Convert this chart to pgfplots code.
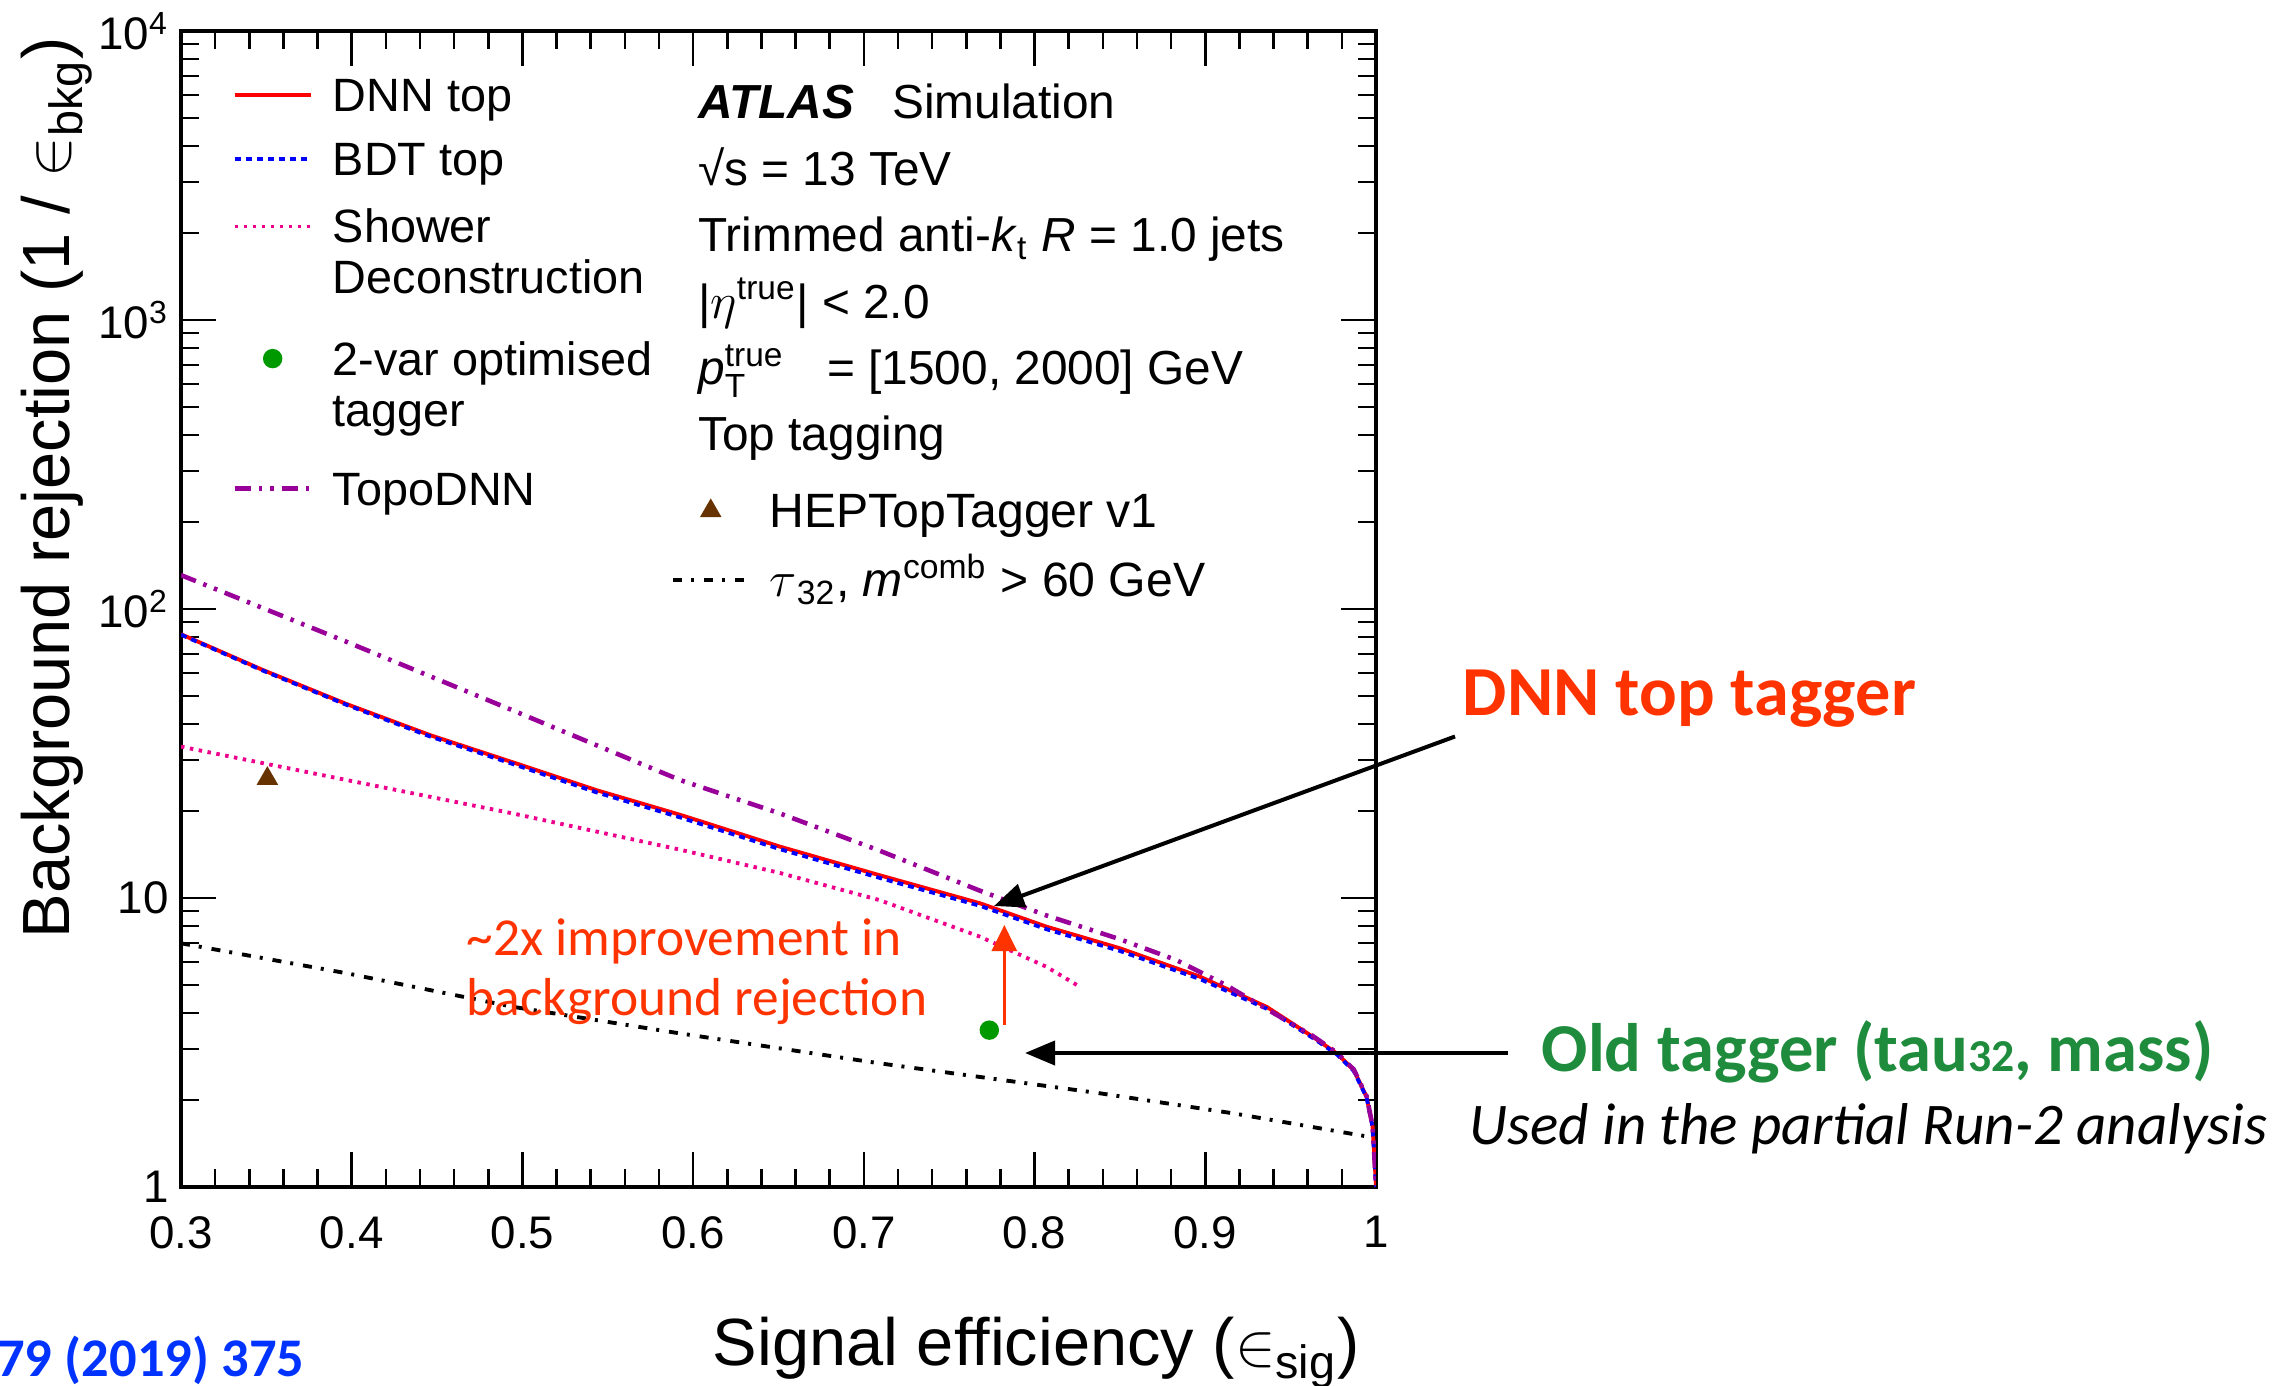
\documentclass[border=0pt]{standalone}
\usepackage{fontspec}
\setmainfont{Liberation Sans}
\newfontfamily\gill{Carlito}
\usepackage{amsmath}
\usepackage{pgfplots}
\usepackage{pgfplotstable}
\pgfplotsset{compat=1.18}
\usetikzlibrary{arrows.meta}

\definecolor{annred}{RGB}{255,51,0}
\definecolor{anngreen}{RGB}{30,140,60}
\definecolor{annblue}{RGB}{0,51,255}
\definecolor{topo}{RGB}{153,0,153}
\definecolor{dotgreen}{RGB}{0,153,0}
\definecolor{tribrown}{RGB}{102,51,0}

\pgfplotstableread{
x y
0.300 81.8
0.348 61.5
0.397 46.9
0.446 36.6
0.495 29.4
0.5435 23.6
0.5925 19.4
0.651 15.05
0.709 12.0
0.768 9.59
0.807 7.96
0.850 6.70
0.897 5.34
0.936 4.20
0.963 3.31
0.977 2.90
0.987 2.54
0.9945 2.05
0.998 1.62
0.9994 1.17
1.000 1.00
}\dnndata

\pgfplotstableread{
x y
0.300 81.5
0.348 61.2
0.397 46.6
0.446 36.2
0.495 29.0
0.5435 23.2
0.5925 19.0
0.651 14.75
0.709 11.75
0.768 9.40
0.807 7.80
0.850 6.56
0.897 5.24
0.936 4.14
0.963 3.28
0.977 2.88
0.987 2.52
0.9945 2.04
0.998 1.61
0.9994 1.16
1.000 1.00
}\bdtdata

\pgfplotstableread{
x y
0.300 33.4
0.397 25.6
0.4947 19.6
0.5923 14.7
0.651 12.2
0.709 9.84
0.768 7.35
0.807 5.78
0.8265 4.93
}\showerdata

\pgfplotstableread{
x y
0.300 131
0.397 77
0.4947 44.5
0.5923 25.6
0.651 19.6
0.709 14.6
0.768 10.6
0.807 8.7
0.850 7.2
0.883 6.1
0.912 5.0
0.940 4.0
0.963 3.33
0.977 2.92
0.987 2.55
0.9945 2.06
0.998 1.63
0.9994 1.17
1.000 1.00
}\topodata

\pgfplotstableread{
x y
0.300 6.97
0.397 5.49
0.4947 4.20
0.5923 3.40
0.709 2.68
0.8383 2.11
0.916 1.80
0.9965 1.49
}\taudata

\pgfplotsset{
  lineimg/.style={legend image code/.code={\path[draw=none,fill=none] (0mm,0mm) -- (7.6mm,0mm);\draw[##1] (0mm,1.65mm) -- (7.6mm,1.65mm);}},
  markimg/.style={legend image code/.code={\path[draw=none,fill=none] (0mm,0mm) -- (7.6mm,0mm);\draw[##1] plot[only marks] coordinates {(3.8mm,1.65mm)};}},
}

\begin{document}
\begin{tikzpicture}
\path[use as bounding box] (0,0) rectangle (229.3mm,138.5mm);

\begin{axis}[
  at={(18.1mm,19.8mm)}, anchor=south west,
  scale only axis, width=119.5mm, height=115.6mm,
  xmin=0.3, xmax=1, ymode=log, ymin=1, ymax=10000,
  enlargelimits=false,
  axis line style={line width=0.9pt},
  tick style={line width=0.7pt, black},
  tick align=inside, tick pos=both,
  major tick length=3.5mm, minor tick length=1.8mm,
  xtick={0.3,0.4,0.5,0.6,0.7,0.8,0.9,1.0},
  xticklabels={0.3,0.4,0.5,0.6,0.7,0.8,0.9,1},
  minor x tick num=4,
  ytick={1,10,100,1000,10000},
  yticklabels={1,10,10\textsuperscript{2},10\textsuperscript{3},10\textsuperscript{4}},
  tick label style={font=\fontsize{13}{15}\selectfont},
  xticklabel style={yshift=-1.7mm},
  xlabel={Signal efficiency ($\in$\textsubscript{sig})},
  ylabel={Background rejection (1 / $\in$\textsubscript{bkg})},
  label style={font=\fontsize{19}{22}\selectfont, inner sep=0pt},
  xlabel style={at={(axis description cs:0.9866,-0.154)}, anchor=base east},
  ylabel style={at={(axis description cs:-0.0734,0.995)}, anchor=south east},
  legend cell align=left,
  legend style={at={(axis description cs:0.0424,0.967)}, anchor=north west,
    draw=none, fill=none, inner sep=0pt, row sep=0pt, column sep=1.3mm,
    font=\fontsize{13.3}{14.6}\selectfont,
    cells={anchor=base west, inner ysep=0pt, text height=3.5mm, text depth=1.5mm}},
]
\addplot[red, line width=1.1pt, lineimg] table {\dnndata};
\addlegendentry[text depth=1.5mm]{DNN top}
\addplot[blue, line width=1.1pt, dash pattern=on 0.6mm off 0.5mm, lineimg] table {\bdtdata};
\addlegendentry[text depth=1.8mm]{BDT top}
\addplot[magenta, line width=1.1pt, dash pattern=on 0.35mm off 0.55mm, lineimg] table {\showerdata};
\addlegendentry[text depth=0.1mm]{Shower}
\addlegendimage{empty legend}
\addlegendentry[text depth=3.3mm]{Deconstruction}
\addplot[only marks, mark=*, mark size=0.9mm, color=dotgreen, markimg]
  coordinates {(0.7735,3.49)};
\addlegendentry[text depth=0.2mm]{2-var optimised}
\addlegendimage{empty legend}
\addlegendentry[text depth=3.0mm]{tagger}
\addplot[topo, line width=1.3pt, dash pattern=on 1.6mm off 0.8mm on 0.35mm off 0.8mm on 0.35mm off 0.8mm, lineimg] table {\topodata};
\addlegendentry[text depth=0.5mm]{TopoDNN}

\node[anchor=north west, align=left, inner sep=0pt, font=\fontsize{13.6}{18.9}\selectfont]
  at (axis description cs:0.4323,0.9546) {%
  {\bfseries\itshape ATLAS}\hspace{0.8em}Simulation\\
  √s = 13 TeV\\
  Trimmed anti-\textit{k}\textsubscript{t} \textit{R} = 1.0 jets\\
  |$\eta$\textsuperscript{true}| < 2.0\\
  \textit{p}$^{\text{true}}_{\text{T}}$\hspace{0.9em}= [1500, 2000] GeV\\
  Top tagging};
\end{axis}

\begin{axis}[
  at={(18.1mm,19.8mm)}, anchor=south west,
  scale only axis, width=119.5mm, height=115.6mm,
  xmin=0.3, xmax=1, ymode=log, ymin=1, ymax=10000,
  enlargelimits=false, hide axis,
  legend cell align=left,
  legend style={at={(axis description cs:0.4093,0.6076)}, anchor=north west,
    draw=none, fill=none, inner sep=0pt, row sep=0pt, column sep=1.2mm,
    font=\fontsize{13.7}{15}\selectfont,
    cells={anchor=base west, inner ysep=0pt, text height=3.5mm, text depth=1.5mm}},
]
\addplot[only marks, mark=triangle*, mark size=1.1mm, color=tribrown, markimg]
  coordinates {(0.3506,25.9)};
\addlegendentry[text depth=2.05mm]{HEPTopTagger v1}
\addplot[black, line width=1.1pt, dash pattern=on 0.9mm off 0.9mm on 0.3mm off 1.0mm, lineimg] table {\taudata};
\addlegendentry{$\tau$\textsubscript{32}, \textit{m}\textsuperscript{comb} > 60 GeV}
\end{axis}

% annotations (page coordinates, 1 px = 0.1 mm)
\draw[line width=0.4mm, -{Triangle[length=3mm,width=2.4mm]}] (145.5mm,64.85mm) -- (99.4mm,47.9mm);
\draw[line width=0.4mm, -{Triangle[length=3mm,width=2.4mm]}] (150.8mm,33.2mm) -- (102.5mm,33.2mm);
\draw[annred, line width=0.3mm, -{Triangle[length=2.6mm,width=2.5mm]}] (100.43mm,36.0mm) -- (100.43mm,46.0mm);

\node[anchor=base west, inner sep=0pt, text=annred, font=\gill\fontsize{15.2}{17}\selectfont] at (46.6mm,43.0mm) {\textasciitilde2x improvement in};
\node[anchor=base west, inner sep=0pt, text=annred, font=\gill\fontsize{15.2}{17}\selectfont] at (46.6mm,37.0mm) {background rejection};
\node[anchor=base west, inner sep=0pt, text=annred, font=\gill\bfseries\fontsize{20}{24}\selectfont] at (146.2mm,67.0mm) {DNN top tagger};
\node[anchor=base west, inner sep=0pt, text=anngreen, font=\gill\bfseries\fontsize{19.5}{24}\selectfont] at (154.1mm,31.4mm) {Old tagger (tau{\fontsize{13}{13}\selectfont 32}, mass)};
\node[anchor=base west, inner sep=0pt, font=\gill\itshape\fontsize{16.8}{20}\selectfont] at (146.9mm,24.1mm) {Used in the partial Run-2 analysis};
\node[anchor=south east, inner sep=0pt, text=annblue, font=\gill\bfseries\fontsize{15.5}{18}\selectfont] at (30.5mm,0mm) {79 (2019) 375};
\end{tikzpicture}
\end{document}
